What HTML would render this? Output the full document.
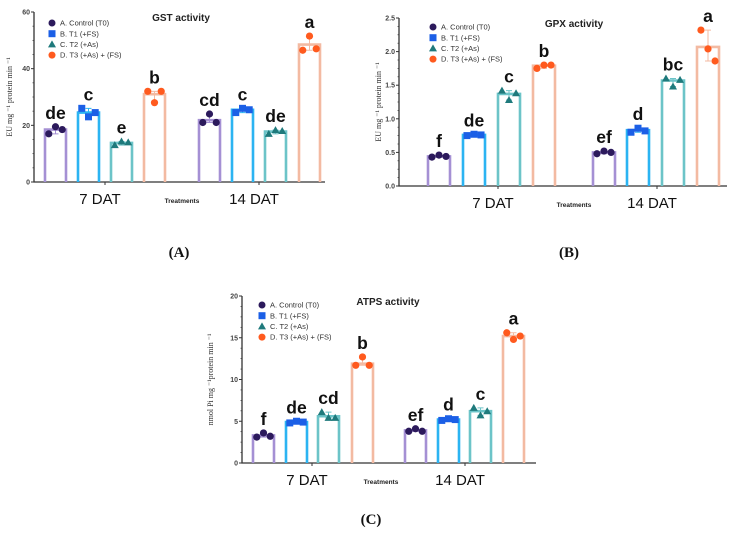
<!DOCTYPE html>
<html><head><meta charset="utf-8">
<style>
body{margin:0;background:#fff;}
svg{display:block;font-family:"Liberation Sans",sans-serif;}
.tick{font-size:7px;font-weight:bold;fill:#444;}
.let{font-size:17.5px;font-weight:bold;fill:#111;font-family:"Liberation Sans",sans-serif;}
.leg{font-size:7.5px;fill:#333;}
.ttl{font-size:10px;font-weight:bold;fill:#222;}
.grp{font-size:15px;fill:#111;}
.trt{font-size:6.5px;font-weight:bold;fill:#222;}
.yt{font-size:8px;fill:#333;font-family:"Liberation Serif",serif;}
.pl{font-size:15px;font-weight:bold;fill:#111;font-family:"Liberation Serif",serif;}
</style></head><body>
<svg id="fig" width="739" height="540" viewBox="0 0 739 540"></svg>
<script>
const groups=["7 DAT","14 DAT"];
const treatments=["A. Control (T0)","B. T1 (+FS)","C. T2 (+As)","D. T3 (+As) + (FS)"];
const gstMeans=[18.5,24.5,13.8,31,21.8,25.5,17.8,48.5];
const gstPoints=[[17,19.5,18.5],[26,23,24.5],[13,14.3,14],[32,28,32],[21,24,21],[24.5,26,25.5],[17,18.3,18],[46.5,51.5,47]];
const gstLetters=["de","c","e","b","cd","c","de","a"];
const gstTicks=[0,20,40,60];
const gpxMeans=[0.44,0.76,1.37,1.79,0.5,0.83,1.57,2.07];
const gpxPoints=[[0.43,0.46,0.44],[0.75,0.77,0.76],[1.42,1.28,1.38],[1.75,1.8,1.8],[0.48,0.52,0.5],[0.8,0.86,0.82],[1.6,1.48,1.58],[2.32,2.04,1.86]];
const gpxLetters=["f","de","c","b","ef","d","bc","a"];
const gpxTicks=[0,0.5,1.0,1.5,2.0,2.5];
const atpMeans=[3.3,4.9,5.6,11.9,3.9,5.2,6.2,15.2];
const atpPoints=[[3.1,3.6,3.2],[4.8,5.0,4.9],[6.1,5.4,5.4],[11.7,12.7,11.7],[3.8,4.1,3.8],[5.1,5.3,5.2],[6.6,5.7,6.2],[15.6,14.8,15.2]];
const atpLetters=["f","de","cd","b","ef","d","c","a"];
const atpTicks=[0,5,10,15,20];

const NS="http://www.w3.org/2000/svg";
const svg=document.getElementById('fig');
const barCol=["#a590d4","#2bb4f2","#6cc4c8","#f3baa2"];
const mkCol=["#2c1a5c","#1b5fe6","#1f7a7c","#ff5a1e"];
function el(t,a,p){const e=document.createElementNS(NS,t);for(const k in a)e.setAttribute(k,a[k]);(p||svg).appendChild(e);return e;}
function txt(s,a,p){const e=el('text',a,p);e.textContent=s;return e;}

function panel(cfg){
  const g=el('g',{});
  
  
  const y=v=>cfg.y0-(v/cfg.max)*(cfg.y0-cfg.yTop);
  const ax=el('path',{d:`M${cfg.ax} ${cfg.yTop}V${cfg.y0}H${cfg.axEnd}`,stroke:'#333','stroke-width':1.3,fill:'none'},g);
  
  cfg.ticks.forEach((t,i)=>{
    el('line',{x1:cfg.ax-3,x2:cfg.ax,y1:y(t),y2:y(t),stroke:'#333','stroke-width':1},g);
    if(i<cfg.ticks.length-1){const st=(cfg.ticks[i+1]-t)/4;for(let k=1;k<4;k++)el('line',{x1:cfg.ax-1.5,x2:cfg.ax,y1:y(t+k*st),y2:y(t+k*st),stroke:'#333','stroke-width':0.7},g);}
    const tl=txt(cfg.fmt(t),{x:cfg.ax-4,y:y(t)+2.5,'text-anchor':'end',class:'tick'},g);
    
  });
  cfg.means.forEach((m,i)=>{
    const x=cfg.barX[i],w=cfg.bw,c=i%4;
    const b=el('path',{d:`M${x} ${cfg.y0}V${y(m)}H${x+w}V${cfg.y0}`,stroke:barCol[c],'stroke-width':2.6,fill:'none'},g);
    
    const pts=cfg.points[i];const mn=Math.min(...pts),mx=Math.max(...pts);
    el('path',{d:`M${x+w/2} ${y(mx)}V${y(mn)}M${x+w/2-3} ${y(mx)}h6M${x+w/2-3} ${y(mn)}h6`,stroke:barCol[c],'stroke-width':1},g);
    pts.forEach((p,j)=>{
      const px=x+w*(0.18+0.32*j),py=y(p);let mk;
      if(c===0||c===3)mk=el('circle',{cx:px,cy:py,r:3.6,fill:mkCol[c]},g);
      else if(c===1)mk=el('rect',{x:px-3.5,y:py-3.5,width:7,height:7,fill:mkCol[c]},g);
      else mk=el('path',{d:`M${px} ${py-4}L${px+4} ${py+3}L${px-4} ${py+3}Z`,fill:mkCol[c]},g);
      
    });
    const lt=txt(cfg.letters[i],{x:x+w/2,y:y(mx)-8,'text-anchor':'middle',class:'let'},g);
    
  });
  groups.forEach((gn,k)=>{
    el('line',{x1:cfg.gx[k],x2:cfg.gx[k],y1:cfg.y0,y2:cfg.y0+3,stroke:'#333'},g);
    const gl=txt(gn,{x:cfg.gx[k]-5,y:cfg.y0+22,'text-anchor':'middle',class:'grp'},g);
    
  });
  const tr=txt('Treatments',{x:cfg.trX,y:cfg.y0+21,'text-anchor':'middle',class:'trt'},g);
  
  const tt=txt(cfg.title,{x:cfg.titleX,y:cfg.yTop+9,'text-anchor':'middle',class:'ttl'},g);
  
  const yt=txt(cfg.ytitle,{x:0,y:0,'text-anchor':'middle',class:'yt',transform:`translate(${cfg.ytX},${(cfg.yTop+cfg.y0)/2}) rotate(-90)`},g);
  
  treatments.forEach((t,i)=>{
    const lx=cfg.legX,ly=cfg.legY+i*10.7;let mk;
    if(i===0||i===3)mk=el('circle',{cx:lx,cy:ly,r:3.5,fill:mkCol[i]},g);
    else if(i===1)mk=el('rect',{x:lx-3.5,y:ly-3.5,width:7,height:7,fill:mkCol[i]},g);
    else mk=el('path',{d:`M${lx} ${ly-4}L${lx+4} ${ly+3}L${lx-4} ${ly+3}Z`,fill:mkCol[i]},g);
    const lt=txt(t,{x:lx+8,y:ly+2.6,class:'leg'},g);
    
  });
  const pl=txt(cfg.plabel,{x:cfg.plX,y:cfg.plY,'text-anchor':'middle',class:'pl'},g);
  
}
panel({name:'gst-chart',ax:34,axEnd:325,yTop:12,y0:182,max:60,ticks:gstTicks,fmt:v=>String(v),
  means:gstMeans,points:gstPoints,letters:gstLetters,bw:21,
  barX:[45,78,111,144,199,232,265,299],gx:[105,259],trX:182,title:'GST activity',titleX:181,
  ytitle:'EU mg \u207B\u00B9 protein min \u207B\u00B9',ytX:12,legX:52,legY:23,plabel:'(A)',plX:179,plY:257});
panel({name:'gpx-chart',ax:399,axEnd:727,yTop:18,y0:186,max:2.5,ticks:gpxTicks,fmt:v=>v.toFixed(1),
  means:gpxMeans,points:gpxPoints,letters:gpxLetters,bw:22,
  barX:[428,463,498,533,593,627,662,697],gx:[498,657],trX:574,title:'GPX activity',titleX:574,
  ytitle:'EU mg \u207B\u00B9 protein min \u207B\u00B9',ytX:381,legX:433,legY:27,plabel:'(B)',plX:569,plY:257});
panel({name:'atps-chart',ax:242,axEnd:536,yTop:296,y0:463,max:20,ticks:atpTicks,fmt:v=>String(v),
  means:atpMeans,points:atpPoints,letters:atpLetters,bw:21,
  barX:[253,286,318,352,405,438,470,503],gx:[312,465],trX:381,title:'ATPS activity',titleX:388,
  ytitle:'nmol Pi mg \u207B\u00B9protein min \u207B\u00B9',ytX:213,legX:262,legY:305,plabel:'(C)',plX:371,plY:524});
</script>
</body></html>
